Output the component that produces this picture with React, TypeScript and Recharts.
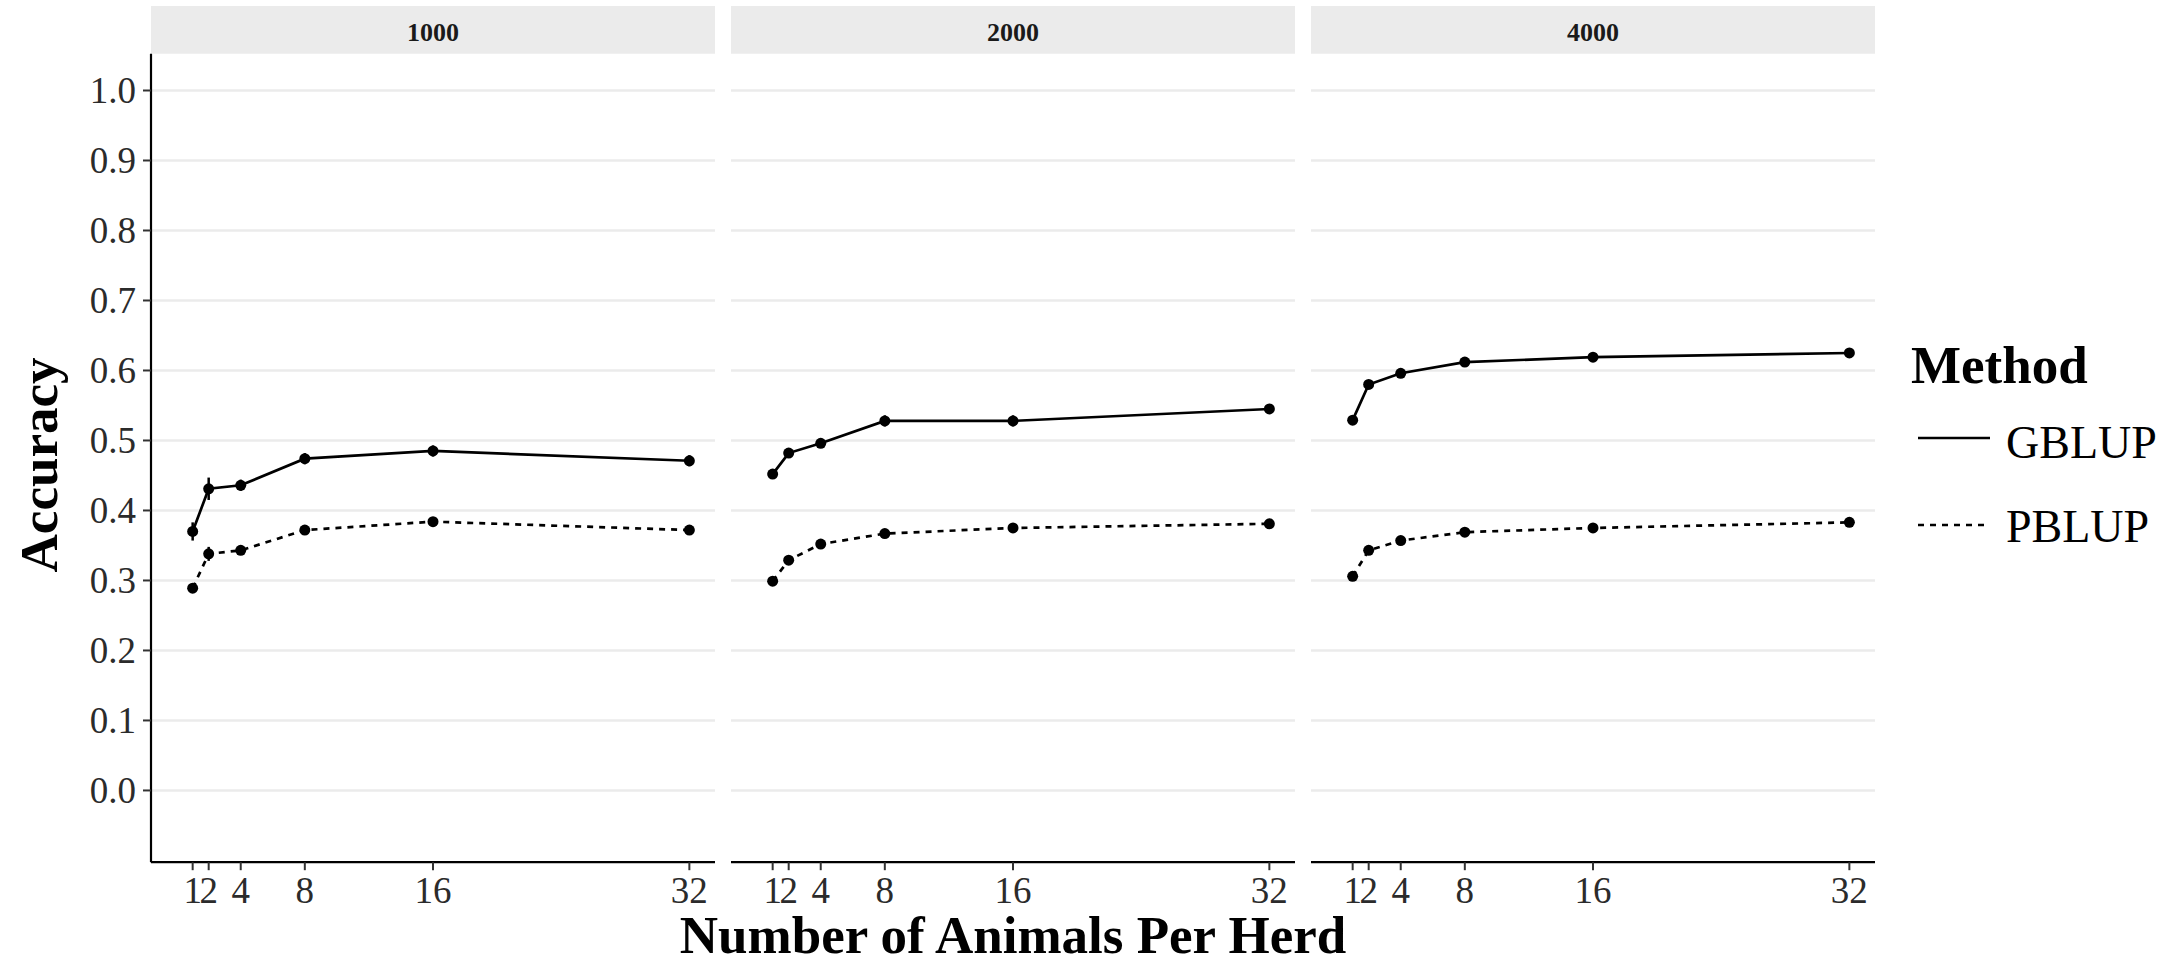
import React from "react";
import { LineChart, Line, XAxis, YAxis, CartesianGrid, ErrorBar } from "recharts";

// ---------- data ----------
const herdSizes = [1, 2, 4, 8, 16, 32];
const panelLabels = ["1000", "2000", "4000"];
const methods = ["GBLUP", "PBLUP"];
const xTicks = [1, 2, 4, 8, 16, 32];
const yTicks = [0, 0.1, 0.2, 0.3, 0.4, 0.5, 0.6, 0.7, 0.8, 0.9, 1.0];

const gblup1000 = [0.37, 0.431, 0.436, 0.474, 0.485, 0.471];
const gblupErr1000 = [0.013, 0.016, 0.008, 0.008, 0.008, 0.008];
const pblup1000 = [0.289, 0.338, 0.343, 0.372, 0.384, 0.372];
const pblupErr1000 = [0.006, 0.01, 0.006, 0.006, 0.006, 0.005];

const gblup2000 = [0.452, 0.482, 0.496, 0.528, 0.528, 0.545];
const gblupErr2000 = [0.007, 0.006, 0.006, 0.008, 0.008, 0.007];
const pblup2000 = [0.299, 0.329, 0.352, 0.367, 0.375, 0.381];
const pblupErr2000 = [0.005, 0.005, 0.007, 0.006, 0.006, 0.006];

const gblup4000 = [0.529, 0.58, 0.596, 0.612, 0.619, 0.625];
const gblupErr4000 = [0.006, 0.005, 0.005, 0.005, 0.004, 0.004];
const pblup4000 = [0.306, 0.343, 0.357, 0.369, 0.375, 0.383];
const pblupErr4000 = [0.004, 0.005, 0.005, 0.005, 0.005, 0.005];

const buildRows = (g: number[], ge: number[], p: number[], pe: number[]) =>
  herdSizes.map((n, i) => ({ n, g: g[i], gErr: ge[i], p: p[i], pErr: pe[i] }));

const panelData = [
  buildRows(gblup1000, gblupErr1000, pblup1000, pblupErr1000),
  buildRows(gblup2000, gblupErr2000, pblup2000, pblupErr2000),
  buildRows(gblup4000, gblupErr4000, pblup4000, pblupErr4000),
];

// ---------- layout ----------
const W = 2182;
const H = 960;
const PANEL_LEFT = [151, 731, 1311];
const PANEL_W = 564;
const PANEL_TOP = 53.75;
const PANEL_BOTTOM = 862.2;
const Y_AXIS_W = 151;
const FONT = "Liberation Serif";
const TICK_COLOR = "#2b2b2b";

function XTick(props: any) {
  const { x, y, payload } = props;
  return (
    <text
      x={x}
      y={y}
      dy={27}
      textAnchor="middle"
      fontFamily={FONT}
      fontSize={37}
      fill={TICK_COLOR}
    >
      {String(payload.value)}
    </text>
  );
}

function YTick(props: any) {
  const { x, y, payload } = props;
  return (
    <text
      x={x}
      y={y}
      dy={13}
      textAnchor="end"
      fontFamily={FONT}
      fontSize={37}
      fill={TICK_COLOR}
    >
      {Number(payload.value).toFixed(1)}
    </text>
  );
}

function Panel({ idx }: { idx: number }) {
  const first = idx === 0;
  const left = first ? PANEL_LEFT[idx] - Y_AXIS_W : PANEL_LEFT[idx];
  const width = first ? PANEL_W + Y_AXIS_W : PANEL_W;
  return (
    <div style={{ position: "absolute", left, top: 0 }}>
      <LineChart
        width={width}
        height={H}
        data={panelData[idx]}
        margin={{ top: PANEL_TOP, right: 0, bottom: 0, left: 0 }}
      >
        <CartesianGrid
          horizontal={true}
          vertical={false}
          stroke="#EBEBEB"
          strokeWidth={2.5}
          horizontalValues={yTicks}
        />
        <XAxis
          dataKey="n"
          type="number"
          domain={[-1.6, 33.6]}
          ticks={xTicks}
          interval={0}
          allowDataOverflow
          height={H - PANEL_BOTTOM}
          axisLine={{ stroke: "#000", strokeWidth: 2.2 }}
          tickLine={{ stroke: "#333", strokeWidth: 2 }}
          tickSize={8}
          tickMargin={6}
          tick={<XTick />}
        />
        <YAxis
          hide={!first}
          type="number"
          domain={[-0.1025, 1.0525]}
          ticks={yTicks}
          interval={0}
          allowDataOverflow
          width={Y_AXIS_W}
          axisLine={{ stroke: "#000", strokeWidth: 2.2 }}
          tickLine={{ stroke: "#333", strokeWidth: 2 }}
          tickSize={8}
          tickMargin={7}
          tick={<YTick />}
        />
        <Line
          dataKey="g"
          name={methods[0]}
          stroke="#000"
          strokeWidth={2.7}
          dot={{ r: 5.5, fill: "#000", stroke: "none" }}
          isAnimationActive={false}
        >
          <ErrorBar dataKey="gErr" direction="y" width={0} stroke="#000" strokeWidth={2.5} />
        </Line>
        <Line
          dataKey="p"
          name={methods[1]}
          stroke="#000"
          strokeWidth={2.7}
          strokeDasharray="6 6"
          dot={{ r: 5.5, fill: "#000", stroke: "none" }}
          isAnimationActive={false}
        >
          <ErrorBar dataKey="pErr" direction="y" width={0} stroke="#000" strokeWidth={2.5} />
        </Line>
      </LineChart>
    </div>
  );
}

export default function App() {
  return (
    <div
      style={{
        position: "absolute",
        left: 0,
        top: 0,
        width: W,
        height: H,
        background: "#fff",
        fontFamily: FONT,
        overflow: "hidden",
      }}
    >
      {/* strips */}
      <svg width={W} height={H} style={{ position: "absolute", left: 0, top: 0 }}>
        {panelLabels.map((lab, i) => (
          <g key={lab}>
            <rect x={PANEL_LEFT[i]} y={6} width={PANEL_W} height={PANEL_TOP - 6} fill="#EBEBEB" />
            <text
              x={PANEL_LEFT[i] + PANEL_W / 2}
              y={41}
              textAnchor="middle"
              fontFamily={FONT}
              fontWeight="bold"
              fontSize={26}
              fill="#1A1A1A"
            >
              {lab}
            </text>
          </g>
        ))}
      </svg>
      {panelLabels.map((_, i) => (
        <Panel key={i} idx={i} />
      ))}
      {/* titles and legend */}
      <svg width={W} height={H} style={{ position: "absolute", left: 0, top: 0, pointerEvents: "none" }}>
        <text
          x={57}
          y={465}
          transform="rotate(-90 57 465)"
          textAnchor="middle"
          fontFamily={FONT}
          fontWeight="bold"
          fontSize={53}
          fill="#000"
        >
          Accuracy
        </text>
        <text
          x={PANEL_LEFT[0] + (PANEL_LEFT[2] + PANEL_W - PANEL_LEFT[0]) / 2}
          y={953}
          textAnchor="middle"
          fontFamily={FONT}
          fontWeight="bold"
          fontSize={53}
          fill="#000"
        >
          Number of Animals Per Herd
        </text>
        <text x={1911} y={383} fontFamily={FONT} fontWeight="bold" fontSize={53} fill="#000">
          Method
        </text>
        <line x1={1918} x2={1990} y1={438} y2={438} stroke="#000" strokeWidth={2.7} />
        <text x={2006} y={458} fontFamily={FONT} fontSize={46} fill="#000">
          {methods[0]}
        </text>
        <line x1={1918} x2={1990} y1={525} y2={525} stroke="#000" strokeWidth={2.7} strokeDasharray="6 6" />
        <text x={2006} y={542} fontFamily={FONT} fontSize={46} fill="#000">
          {methods[1]}
        </text>
      </svg>
    </div>
  );
}
